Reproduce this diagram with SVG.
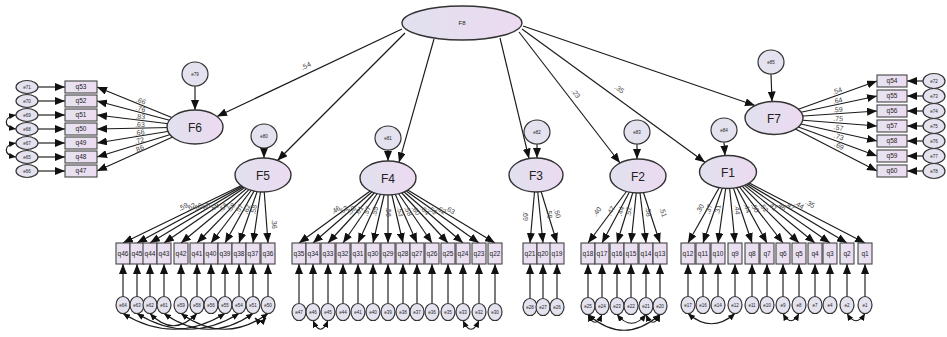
<svg xmlns="http://www.w3.org/2000/svg" width="947" height="337" viewBox="0 0 947 337">
<defs>
<linearGradient id="lg" x1="0" y1="0" x2="1" y2="0"><stop offset="0" stop-color="#e1e1ee"/><stop offset="1" stop-color="#ecdaf1"/></linearGradient>
<linearGradient id="bg" x1="0" y1="0" x2="1" y2="0"><stop offset="0" stop-color="#e6e3f0"/><stop offset="1" stop-color="#eddcf1"/></linearGradient>
<marker id="ah" markerUnits="userSpaceOnUse" markerWidth="10" markerHeight="8" refX="10" refY="4" orient="auto"><path d="M0,0 L10,4 L0,8 Z" fill="#111"/></marker>
<marker id="ch" markerUnits="userSpaceOnUse" markerWidth="7" markerHeight="6" refX="7" refY="3" orient="auto-start-reverse"><path d="M0,0 L7,3 L0,6 Z" fill="#111"/></marker>
</defs>
<style>
.lat{fill:url(#lg);stroke:#333;stroke-width:1.4}
.box{fill:url(#bg);stroke:#444;stroke-width:1.1}
.err{fill:#e4e2ef;stroke:#333;stroke-width:1.2}
.ln{stroke:#1a1a1a;stroke-width:1.15;fill:none;marker-end:url(#ah)}
.cv{stroke:#1a1a1a;stroke-width:1.15;fill:none;marker-end:url(#ch);marker-start:url(#ch)}
text{font-family:"Liberation Sans",Arial,sans-serif;fill:#222;text-anchor:middle}
.fl{font-size:12px}
.ql{font-size:6.5px}
.el{font-size:4.5px}
.ld{font-size:7px;fill:#444}
</style>
<rect width="947" height="337" fill="#ffffff"/>
<g id="connectors">
<path class="ln" d="M402,29 L217,116.5"/>
<path class="ln" d="M405,33 L277.5,160.5"/>
<path class="ln" d="M434,39 L399,162.4"/>
<path class="ln" d="M500,38 L529,158.5"/>
<path class="ln" d="M519,32 L620,163"/>
<path class="ln" d="M522,29 L705,162.3"/>
<path class="ln" d="M523,26 L755,105.5"/>
<text class="ld" transform="translate(307,68) rotate(-25)">.54</text>
<text class="ld" transform="translate(574,95) rotate(52)">.23</text>
<text class="ld" transform="translate(618,91) rotate(36)">.35</text>
<path class="ln" d="M195,86 L195,110"/>
<path class="ln" d="M264,148 L264,158"/>
<path class="ln" d="M388,150 L388,161"/>
<path class="ln" d="M537,144 L537,158"/>
<path class="ln" d="M637,144 L637,159"/>
<path class="ln" d="M724,142 L725,155.5"/>
<path class="ln" d="M771,74 L772,101.5"/>
<path class="ln" d="M195,127 L97,87"/><path class="ln" d="M195,127 L97,101"/><path class="ln" d="M195,127 L97,115"/><path class="ln" d="M195,127 L97,129"/><path class="ln" d="M195,127 L97,143"/><path class="ln" d="M195,127 L97,157"/><path class="ln" d="M195,127 L97,171"/>
<text class="ld" transform="translate(140,103) rotate(22)">.66</text>
<text class="ld" transform="translate(140,111) rotate(15)">.76</text>
<text class="ld" transform="translate(140,119) rotate(7)">.83</text>
<text class="ld" transform="translate(140,127) rotate(-1)">.63</text>
<text class="ld" transform="translate(140,135) rotate(-9)">.66</text>
<text class="ld" transform="translate(140,143) rotate(-17)">.72</text>
<text class="ld" transform="translate(140,151) rotate(-24)">.86</text>
<path class="ln" d="M38,87 L65,87"/><path class="ln" d="M38,101 L65,101"/><path class="ln" d="M38,115 L65,115"/><path class="ln" d="M38,129 L65,129"/><path class="ln" d="M38,143 L65,143"/><path class="ln" d="M38,157 L65,157"/><path class="ln" d="M38,171 L65,171"/>
<path class="cv" d="M16,115 C3,117 3,127 16,129"/>
<path class="cv" d="M16,143 C3,145 3,155 16,157"/>
<path class="ln" d="M774,118 L877,81"/><path class="ln" d="M774,118 L877,96"/><path class="ln" d="M774,118 L877,111"/><path class="ln" d="M774,118 L877,126"/><path class="ln" d="M774,118 L877,141"/><path class="ln" d="M774,118 L877,156"/><path class="ln" d="M774,118 L877,171"/>
<text class="ld" transform="translate(838,93) rotate(-20)">.54</text>
<text class="ld" transform="translate(838,103) rotate(-12)">.64</text>
<text class="ld" transform="translate(838,112) rotate(-4)">.59</text>
<text class="ld" transform="translate(838,121) rotate(4)">.75</text>
<text class="ld" transform="translate(838,130) rotate(12)">.57</text>
<text class="ld" transform="translate(838,139) rotate(20)">.73</text>
<text class="ld" transform="translate(838,148) rotate(27)">.69</text>
<path class="ln" d="M923,81 L907,81"/><path class="ln" d="M923,96 L907,96"/><path class="ln" d="M923,111 L907,111"/><path class="ln" d="M923,126 L907,126"/><path class="ln" d="M923,141 L907,141"/><path class="ln" d="M923,156 L907,156"/><path class="ln" d="M923,171 L907,171"/>
<path class="ln" d="M263,175 L123,243"/><path class="ln" d="M263,175 L137,243"/><path class="ln" d="M263,175 L150,243"/><path class="ln" d="M263,175 L164,243"/><path class="ln" d="M263,175 L181,243"/><path class="ln" d="M263,175 L197,243"/><path class="ln" d="M263,175 L211,243"/><path class="ln" d="M263,175 L225,243"/><path class="ln" d="M263,175 L239,243"/><path class="ln" d="M263,175 L253,243"/><path class="ln" d="M263,175 L268,243"/>
<text class="ld" transform="translate(184,209) rotate(-26)">.59</text>
<text class="ld" transform="translate(192,209) rotate(-28)">.62</text>
<text class="ld" transform="translate(199,209) rotate(-31)">.66</text>
<text class="ld" transform="translate(207,209) rotate(-34)">.60</text>
<text class="ld" transform="translate(216,209) rotate(-39)">.59</text>
<text class="ld" transform="translate(225,209) rotate(-45)">.56</text>
<text class="ld" transform="translate(233,209) rotate(-52)">.58</text>
<text class="ld" transform="translate(241,210) rotate(-60)">.57</text>
<text class="ld" transform="translate(249,210) rotate(-70)">.62</text>
<text class="ld" transform="translate(256,210) rotate(-81)">.58</text>
<text class="ld" transform="translate(272,224) rotate(86)">.36</text>
<path class="ln" d="M388,178 L299,243"/><path class="ln" d="M388,178 L313,243"/><path class="ln" d="M388,178 L328,243"/><path class="ln" d="M388,178 L343,243"/><path class="ln" d="M388,178 L358,243"/><path class="ln" d="M388,178 L373,243"/><path class="ln" d="M388,178 L388,243"/><path class="ln" d="M388,178 L403,243"/><path class="ln" d="M388,178 L417,243"/><path class="ln" d="M388,178 L432,243"/><path class="ln" d="M388,178 L448,243"/><path class="ln" d="M388,178 L463,243"/><path class="ln" d="M388,178 L479,243"/><path class="ln" d="M388,178 L495,243"/>
<text class="ld" transform="translate(337,212) rotate(-36)">.46</text>
<text class="ld" transform="translate(345,212) rotate(-40)">.52</text>
<text class="ld" transform="translate(353,212) rotate(-47)">.58</text>
<text class="ld" transform="translate(361,212) rotate(-55)">.61</text>
<text class="ld" transform="translate(369,212) rotate(-65)">.57</text>
<text class="ld" transform="translate(377,212) rotate(-77)">.55</text>
<text class="ld" transform="translate(386,212) rotate(90)">.56</text>
<text class="ld" transform="translate(398,212) rotate(77)">.53</text>
<text class="ld" transform="translate(406,212) rotate(66)">.58</text>
<text class="ld" transform="translate(414,212) rotate(55)">.60</text>
<text class="ld" transform="translate(423,212) rotate(47)">.64</text>
<text class="ld" transform="translate(431,212) rotate(40)">.59</text>
<text class="ld" transform="translate(440,212) rotate(35)">.62</text>
<text class="ld" transform="translate(449,212) rotate(31)">.63</text>
<path class="ln" d="M536,175 L530,243"/><path class="ln" d="M536,175 L543,243"/><path class="ln" d="M536,175 L557,243"/>
<text class="ld" transform="translate(523,216) rotate(90)">.69</text>
<text class="ld" transform="translate(547,214) rotate(84)">.58</text>
<text class="ld" transform="translate(555,214) rotate(73)">.50</text>
<path class="ln" d="M638,176 L588,243"/><path class="ln" d="M638,176 L602,243"/><path class="ln" d="M638,176 L617,243"/><path class="ln" d="M638,176 L631,243"/><path class="ln" d="M638,176 L646,243"/><path class="ln" d="M638,176 L660,243"/>
<text class="ld" transform="translate(599,213) rotate(-53)">.40</text>
<text class="ld" transform="translate(613,212) rotate(-61)">.47</text>
<text class="ld" transform="translate(623,212) rotate(-72)">.44</text>
<text class="ld" transform="translate(631,212) rotate(-84)">.52</text>
<text class="ld" transform="translate(646,212) rotate(83)">.58</text>
<text class="ld" transform="translate(661,213) rotate(72)">.51</text>
<path class="ln" d="M728,172 L688,243"/><path class="ln" d="M728,172 L703,243"/><path class="ln" d="M728,172 L718,243"/><path class="ln" d="M728,172 L735,243"/><path class="ln" d="M728,172 L752,243"/><path class="ln" d="M728,172 L767,243"/><path class="ln" d="M728,172 L783,243"/><path class="ln" d="M728,172 L799,243"/><path class="ln" d="M728,172 L815,243"/><path class="ln" d="M728,172 L830,243"/><path class="ln" d="M728,172 L847,243"/><path class="ln" d="M728,172 L865,243"/>
<text class="ld" transform="translate(702,210) rotate(-60)">.30</text>
<text class="ld" transform="translate(711,210) rotate(-70)">.37</text>
<text class="ld" transform="translate(720,210) rotate(-82)">.31</text>
<text class="ld" transform="translate(735,210) rotate(84)">.44</text>
<text class="ld" transform="translate(745,209) rotate(71)">.44</text>
<text class="ld" transform="translate(753,209) rotate(61)">.50</text>
<text class="ld" transform="translate(762,209) rotate(52)">.52</text>
<text class="ld" transform="translate(771,208) rotate(45)">.41</text>
<text class="ld" transform="translate(780,208) rotate(39)">.46</text>
<text class="ld" transform="translate(789,208) rotate(35)">.47</text>
<text class="ld" transform="translate(798,207) rotate(31)">.44</text>
<text class="ld" transform="translate(809,206) rotate(27)">.35</text>
<path class="ln" d="M123,296.5 L123,264"/><path class="ln" d="M137,296.5 L137,264"/><path class="ln" d="M150,296.5 L150,264"/><path class="ln" d="M164,296.5 L164,264"/><path class="ln" d="M181,296.5 L181,264"/><path class="ln" d="M197,296.5 L197,264"/><path class="ln" d="M211,296.5 L211,264"/><path class="ln" d="M225,296.5 L225,264"/><path class="ln" d="M239,296.5 L239,264"/><path class="ln" d="M253,296.5 L253,264"/><path class="ln" d="M268,296.5 L268,264"/>
<path class="ln" d="M299,303.5 L299,264"/><path class="ln" d="M313,303.5 L313,264"/><path class="ln" d="M328,303.5 L328,264"/><path class="ln" d="M343,303.5 L343,264"/><path class="ln" d="M358,303.5 L358,264"/><path class="ln" d="M373,303.5 L373,264"/><path class="ln" d="M388,303.5 L388,264"/><path class="ln" d="M403,303.5 L403,264"/><path class="ln" d="M417,303.5 L417,264"/><path class="ln" d="M432,303.5 L432,264"/><path class="ln" d="M448,303.5 L448,264"/><path class="ln" d="M463,303.5 L463,264"/><path class="ln" d="M479,303.5 L479,264"/><path class="ln" d="M495,303.5 L495,264"/>
<path class="ln" d="M530,298.5 L530,264"/><path class="ln" d="M543,298.5 L543,264"/><path class="ln" d="M557,298.5 L557,264"/>
<path class="ln" d="M588,297.5 L588,264"/><path class="ln" d="M602,297.5 L602,264"/><path class="ln" d="M617,297.5 L617,264"/><path class="ln" d="M631,297.5 L631,264"/><path class="ln" d="M646,297.5 L646,264"/><path class="ln" d="M660,297.5 L660,264"/>
<path class="ln" d="M688,296.5 L688,264"/><path class="ln" d="M703,296.5 L703,264"/><path class="ln" d="M718,296.5 L718,264"/><path class="ln" d="M735,296.5 L735,264"/><path class="ln" d="M752,296.5 L752,264"/><path class="ln" d="M767,296.5 L767,264"/><path class="ln" d="M783,296.5 L783,264"/><path class="ln" d="M799,296.5 L799,264"/><path class="ln" d="M815,296.5 L815,264"/><path class="ln" d="M830,296.5 L830,264"/><path class="ln" d="M847,296.5 L847,264"/><path class="ln" d="M865,296.5 L865,264"/>
<path class="cv" d="M123,313.5 Q174,345 225,313.5"/>
<path class="cv" d="M137,313.5 Q188,345 239,313.5"/>
<path class="cv" d="M150,313.5 Q173.5,338 197,313.5"/>
<path class="cv" d="M164,313.5 Q208.5,345 253,313.5"/>
<path class="cv" d="M181,313.5 Q224.5,345 268,313.5"/>
<path class="cv" d="M255,318 Q260.5,324 266,318"/>
<path class="cv" d="M313,320.5 Q320.5,338 328,320.5"/>
<path class="cv" d="M463,320.5 Q471,338 479,320.5"/>
<path class="cv" d="M588,314.5 Q624,346 660,314.5"/>
<path class="cv" d="M588,314.5 Q595,330 602,314.5"/>
<path class="cv" d="M617,314.5 Q631.5,332 646,314.5"/>
<path class="cv" d="M646,314.5 Q653,330 660,314.5"/>
<path class="cv" d="M688,313.5 Q711.5,334 735,313.5"/>
<path class="cv" d="M783,313.5 Q791,328 799,313.5"/>
<path class="cv" d="M847,313.5 Q856,328 865,313.5"/>
</g>
<g id="F8"><ellipse class="lat" cx="462" cy="23" rx="60" ry="17"/><text x="462" y="25" style="font-size:6px">F8</text></g>
<g id="F6"><ellipse class="lat" cx="195" cy="127" rx="28" ry="17"/><text class="fl" x="195" y="131.5">F6</text></g>
<g id="F5"><ellipse class="lat" cx="263" cy="175" rx="28" ry="17"/><text class="fl" x="263" y="179.5">F5</text></g>
<g id="F4"><ellipse class="lat" cx="388" cy="178" rx="28" ry="17"/><text class="fl" x="388" y="182.5">F4</text></g>
<g id="F3"><ellipse class="lat" cx="536" cy="175" rx="27" ry="17"/><text class="fl" x="536" y="179.5">F3</text></g>
<g id="F2"><ellipse class="lat" cx="638" cy="176" rx="28" ry="17"/><text class="fl" x="638" y="180.5">F2</text></g>
<g id="F1"><ellipse class="lat" cx="728" cy="172" rx="28.5" ry="16.5"/><text class="fl" x="728" y="176.5">F1</text></g>
<g id="F7"><ellipse class="lat" cx="774" cy="118" rx="29" ry="16.5"/><text class="fl" x="774" y="122.5">F7</text></g>
<g id="e79"><ellipse class="err" cx="195" cy="74" rx="13" ry="12"/><text class="el" x="195" y="75.5">e79</text></g>
<g id="e80"><ellipse class="err" cx="264" cy="136" rx="13" ry="12"/><text class="el" x="264" y="137.5">e80</text></g>
<g id="e81"><ellipse class="err" cx="388" cy="138" rx="13" ry="12"/><text class="el" x="388" y="139.5">e81</text></g>
<g id="e82"><ellipse class="err" cx="537" cy="132" rx="13" ry="12"/><text class="el" x="537" y="133.5">e82</text></g>
<g id="e83"><ellipse class="err" cx="637" cy="132" rx="13" ry="12"/><text class="el" x="637" y="133.5">e83</text></g>
<g id="e84"><ellipse class="err" cx="724" cy="130" rx="13" ry="12"/><text class="el" x="724" y="131.5">e84</text></g>
<g id="e85"><ellipse class="err" cx="771" cy="62" rx="13" ry="12"/><text class="el" x="771" y="63.5">e85</text></g>
<g id="q53"><rect class="box" x="65" y="81" width="32" height="12"/><text class="ql" x="81" y="89.3">q53</text></g>
<g id="q52"><rect class="box" x="65" y="95" width="32" height="12"/><text class="ql" x="81" y="103.3">q52</text></g>
<g id="q51"><rect class="box" x="65" y="109" width="32" height="12"/><text class="ql" x="81" y="117.3">q51</text></g>
<g id="q50"><rect class="box" x="65" y="123" width="32" height="12"/><text class="ql" x="81" y="131.3">q50</text></g>
<g id="q49"><rect class="box" x="65" y="137" width="32" height="12"/><text class="ql" x="81" y="145.3">q49</text></g>
<g id="q48"><rect class="box" x="65" y="151" width="32" height="12"/><text class="ql" x="81" y="159.3">q48</text></g>
<g id="q47"><rect class="box" x="65" y="165" width="32" height="12"/><text class="ql" x="81" y="173.3">q47</text></g>
<g id="e71"><ellipse class="err" cx="27" cy="87" rx="11" ry="6.5"/><text class="el" x="27" y="88.6">e71</text></g>
<g id="e70"><ellipse class="err" cx="27" cy="101" rx="11" ry="6.5"/><text class="el" x="27" y="102.6">e70</text></g>
<g id="e69"><ellipse class="err" cx="27" cy="115" rx="11" ry="6.5"/><text class="el" x="27" y="116.6">e69</text></g>
<g id="e68"><ellipse class="err" cx="27" cy="129" rx="11" ry="6.5"/><text class="el" x="27" y="130.6">e68</text></g>
<g id="e67"><ellipse class="err" cx="27" cy="143" rx="11" ry="6.5"/><text class="el" x="27" y="144.6">e67</text></g>
<g id="e65"><ellipse class="err" cx="27" cy="157" rx="11" ry="6.5"/><text class="el" x="27" y="158.6">e65</text></g>
<g id="e66"><ellipse class="err" cx="27" cy="171" rx="11" ry="6.5"/><text class="el" x="27" y="172.6">e66</text></g>
<g id="q54"><rect class="box" x="877" y="75" width="30" height="12"/><text class="ql" x="892" y="83.3">q54</text></g>
<g id="q55"><rect class="box" x="877" y="90" width="30" height="12"/><text class="ql" x="892" y="98.3">q55</text></g>
<g id="q56"><rect class="box" x="877" y="105" width="30" height="12"/><text class="ql" x="892" y="113.3">q56</text></g>
<g id="q57"><rect class="box" x="877" y="120" width="30" height="12"/><text class="ql" x="892" y="128.3">q57</text></g>
<g id="q58"><rect class="box" x="877" y="135" width="30" height="12"/><text class="ql" x="892" y="143.3">q58</text></g>
<g id="q59"><rect class="box" x="877" y="150" width="30" height="12"/><text class="ql" x="892" y="158.3">q59</text></g>
<g id="q60"><rect class="box" x="877" y="165" width="30" height="12"/><text class="ql" x="892" y="173.3">q60</text></g>
<g id="e72"><ellipse class="err" cx="934" cy="81" rx="11" ry="7.5"/><text class="el" x="934" y="82.6">e72</text></g>
<g id="e73"><ellipse class="err" cx="934" cy="96" rx="11" ry="7.5"/><text class="el" x="934" y="97.6">e73</text></g>
<g id="e74"><ellipse class="err" cx="934" cy="111" rx="11" ry="7.5"/><text class="el" x="934" y="112.6">e74</text></g>
<g id="e75"><ellipse class="err" cx="934" cy="126" rx="11" ry="7.5"/><text class="el" x="934" y="127.6">e75</text></g>
<g id="e76"><ellipse class="err" cx="934" cy="141" rx="11" ry="7.5"/><text class="el" x="934" y="142.6">e76</text></g>
<g id="e77"><ellipse class="err" cx="934" cy="156" rx="11" ry="7.5"/><text class="el" x="934" y="157.6">e77</text></g>
<g id="e78"><ellipse class="err" cx="934" cy="171" rx="11" ry="7.5"/><text class="el" x="934" y="172.6">e78</text></g>
<g id="q46"><rect class="box" x="116" y="243" width="14" height="21"/><text class="ql" x="123" y="256">q46</text></g>
<g id="q45"><rect class="box" x="130" y="243" width="14" height="21"/><text class="ql" x="137" y="256">q45</text></g>
<g id="q44"><rect class="box" x="143" y="243" width="14" height="21"/><text class="ql" x="150" y="256">q44</text></g>
<g id="q43"><rect class="box" x="157" y="243" width="14" height="21"/><text class="ql" x="164" y="256">q43</text></g>
<g id="q42"><rect class="box" x="174" y="243" width="14" height="21"/><text class="ql" x="181" y="256">q42</text></g>
<g id="q41"><rect class="box" x="190" y="243" width="14" height="21"/><text class="ql" x="197" y="256">q41</text></g>
<g id="q40"><rect class="box" x="204" y="243" width="14" height="21"/><text class="ql" x="211" y="256">q40</text></g>
<g id="q39"><rect class="box" x="218" y="243" width="14" height="21"/><text class="ql" x="225" y="256">q39</text></g>
<g id="q38"><rect class="box" x="232" y="243" width="14" height="21"/><text class="ql" x="239" y="256">q38</text></g>
<g id="q37"><rect class="box" x="246" y="243" width="14" height="21"/><text class="ql" x="253" y="256">q37</text></g>
<g id="q36"><rect class="box" x="261" y="243" width="14" height="21"/><text class="ql" x="268" y="256">q36</text></g>
<g id="e64"><ellipse class="err" cx="123" cy="305" rx="7" ry="8.5"/><text class="el" x="123" y="306.6">e64</text></g>
<g id="e63"><ellipse class="err" cx="137" cy="305" rx="7" ry="8.5"/><text class="el" x="137" y="306.6">e63</text></g>
<g id="e62"><ellipse class="err" cx="150" cy="305" rx="7" ry="8.5"/><text class="el" x="150" y="306.6">e62</text></g>
<g id="e61"><ellipse class="err" cx="164" cy="305" rx="7" ry="8.5"/><text class="el" x="164" y="306.6">e61</text></g>
<g id="e59"><ellipse class="err" cx="181" cy="305" rx="7" ry="8.5"/><text class="el" x="181" y="306.6">e59</text></g>
<g id="e58"><ellipse class="err" cx="197" cy="305" rx="7" ry="8.5"/><text class="el" x="197" y="306.6">e58</text></g>
<g id="e56"><ellipse class="err" cx="211" cy="305" rx="7" ry="8.5"/><text class="el" x="211" y="306.6">e56</text></g>
<g id="e55"><ellipse class="err" cx="225" cy="305" rx="7" ry="8.5"/><text class="el" x="225" y="306.6">e55</text></g>
<g id="e54"><ellipse class="err" cx="239" cy="305" rx="7" ry="8.5"/><text class="el" x="239" y="306.6">e54</text></g>
<g id="e51"><ellipse class="err" cx="253" cy="305" rx="7" ry="8.5"/><text class="el" x="253" y="306.6">e51</text></g>
<g id="e50"><ellipse class="err" cx="268" cy="305" rx="7" ry="8.5"/><text class="el" x="268" y="306.6">e50</text></g>
<g id="q35"><rect class="box" x="292" y="243" width="14" height="21"/><text class="ql" x="299" y="256">q35</text></g>
<g id="q34"><rect class="box" x="306" y="243" width="14" height="21"/><text class="ql" x="313" y="256">q34</text></g>
<g id="q33"><rect class="box" x="321" y="243" width="14" height="21"/><text class="ql" x="328" y="256">q33</text></g>
<g id="q32"><rect class="box" x="336" y="243" width="14" height="21"/><text class="ql" x="343" y="256">q32</text></g>
<g id="q31"><rect class="box" x="351" y="243" width="14" height="21"/><text class="ql" x="358" y="256">q31</text></g>
<g id="q30"><rect class="box" x="366" y="243" width="14" height="21"/><text class="ql" x="373" y="256">q30</text></g>
<g id="q29"><rect class="box" x="381" y="243" width="14" height="21"/><text class="ql" x="388" y="256">q29</text></g>
<g id="q28"><rect class="box" x="396" y="243" width="14" height="21"/><text class="ql" x="403" y="256">q28</text></g>
<g id="q27"><rect class="box" x="410" y="243" width="14" height="21"/><text class="ql" x="417" y="256">q27</text></g>
<g id="q26"><rect class="box" x="425" y="243" width="14" height="21"/><text class="ql" x="432" y="256">q26</text></g>
<g id="q25"><rect class="box" x="441" y="243" width="14" height="21"/><text class="ql" x="448" y="256">q25</text></g>
<g id="q24"><rect class="box" x="456" y="243" width="14" height="21"/><text class="ql" x="463" y="256">q24</text></g>
<g id="q23"><rect class="box" x="472" y="243" width="14" height="21"/><text class="ql" x="479" y="256">q23</text></g>
<g id="q22"><rect class="box" x="488" y="243" width="14" height="21"/><text class="ql" x="495" y="256">q22</text></g>
<g id="e47"><ellipse class="err" cx="299" cy="312" rx="7" ry="8.5"/><text class="el" x="299" y="313.6">e47</text></g>
<g id="e46"><ellipse class="err" cx="313" cy="312" rx="7" ry="8.5"/><text class="el" x="313" y="313.6">e46</text></g>
<g id="e45"><ellipse class="err" cx="328" cy="312" rx="7" ry="8.5"/><text class="el" x="328" y="313.6">e45</text></g>
<g id="e44"><ellipse class="err" cx="343" cy="312" rx="7" ry="8.5"/><text class="el" x="343" y="313.6">e44</text></g>
<g id="e41"><ellipse class="err" cx="358" cy="312" rx="7" ry="8.5"/><text class="el" x="358" y="313.6">e41</text></g>
<g id="e40"><ellipse class="err" cx="373" cy="312" rx="7" ry="8.5"/><text class="el" x="373" y="313.6">e40</text></g>
<g id="e39"><ellipse class="err" cx="388" cy="312" rx="7" ry="8.5"/><text class="el" x="388" y="313.6">e39</text></g>
<g id="e38"><ellipse class="err" cx="403" cy="312" rx="7" ry="8.5"/><text class="el" x="403" y="313.6">e38</text></g>
<g id="e37"><ellipse class="err" cx="417" cy="312" rx="7" ry="8.5"/><text class="el" x="417" y="313.6">e37</text></g>
<g id="e36"><ellipse class="err" cx="432" cy="312" rx="7" ry="8.5"/><text class="el" x="432" y="313.6">e36</text></g>
<g id="e35"><ellipse class="err" cx="448" cy="312" rx="7" ry="8.5"/><text class="el" x="448" y="313.6">e35</text></g>
<g id="e33"><ellipse class="err" cx="463" cy="312" rx="7" ry="8.5"/><text class="el" x="463" y="313.6">e33</text></g>
<g id="e32"><ellipse class="err" cx="479" cy="312" rx="7" ry="8.5"/><text class="el" x="479" y="313.6">e32</text></g>
<g id="e30"><ellipse class="err" cx="495" cy="312" rx="7" ry="8.5"/><text class="el" x="495" y="313.6">e30</text></g>
<g id="q21"><rect class="box" x="523" y="243" width="14" height="21"/><text class="ql" x="530" y="256">q21</text></g>
<g id="q20"><rect class="box" x="537" y="243" width="14" height="21"/><text class="ql" x="543" y="256">q20</text></g>
<g id="q19"><rect class="box" x="550" y="243" width="14" height="21"/><text class="ql" x="557" y="256">q19</text></g>
<g id="e28"><ellipse class="err" cx="530" cy="307" rx="7" ry="8.5"/><text class="el" x="530" y="308.6">e28</text></g>
<g id="e27"><ellipse class="err" cx="543" cy="307" rx="7" ry="8.5"/><text class="el" x="543" y="308.6">e27</text></g>
<g id="e26"><ellipse class="err" cx="557" cy="307" rx="7" ry="8.5"/><text class="el" x="557" y="308.6">e26</text></g>
<g id="q18"><rect class="box" x="581" y="243" width="14" height="21"/><text class="ql" x="588" y="256">q18</text></g>
<g id="q17"><rect class="box" x="595" y="243" width="14" height="21"/><text class="ql" x="602" y="256">q17</text></g>
<g id="q16"><rect class="box" x="610" y="243" width="14" height="21"/><text class="ql" x="617" y="256">q16</text></g>
<g id="q15"><rect class="box" x="624" y="243" width="14" height="21"/><text class="ql" x="631" y="256">q15</text></g>
<g id="q14"><rect class="box" x="639" y="243" width="14" height="21"/><text class="ql" x="646" y="256">q14</text></g>
<g id="q13"><rect class="box" x="653" y="243" width="14" height="21"/><text class="ql" x="660" y="256">q13</text></g>
<g id="e25"><ellipse class="err" cx="588" cy="306" rx="7" ry="8.5"/><text class="el" x="588" y="307.6">e25</text></g>
<g id="e24"><ellipse class="err" cx="602" cy="306" rx="7" ry="8.5"/><text class="el" x="602" y="307.6">e24</text></g>
<g id="e23"><ellipse class="err" cx="617" cy="306" rx="7" ry="8.5"/><text class="el" x="617" y="307.6">e23</text></g>
<g id="e22"><ellipse class="err" cx="631" cy="306" rx="7" ry="8.5"/><text class="el" x="631" y="307.6">e22</text></g>
<g id="e21"><ellipse class="err" cx="646" cy="306" rx="7" ry="8.5"/><text class="el" x="646" y="307.6">e21</text></g>
<g id="e20"><ellipse class="err" cx="660" cy="306" rx="7" ry="8.5"/><text class="el" x="660" y="307.6">e20</text></g>
<g id="q12"><rect class="box" x="681" y="243" width="14" height="21"/><text class="ql" x="688" y="256">q12</text></g>
<g id="q11"><rect class="box" x="696" y="243" width="14" height="21"/><text class="ql" x="703" y="256">q11</text></g>
<g id="q10"><rect class="box" x="711" y="243" width="14" height="21"/><text class="ql" x="718" y="256">q10</text></g>
<g id="q9"><rect class="box" x="728" y="243" width="14" height="21"/><text class="ql" x="735" y="256">q9</text></g>
<g id="q8"><rect class="box" x="745" y="243" width="14" height="21"/><text class="ql" x="752" y="256">q8</text></g>
<g id="q7"><rect class="box" x="760" y="243" width="14" height="21"/><text class="ql" x="767" y="256">q7</text></g>
<g id="q6"><rect class="box" x="776" y="243" width="14" height="21"/><text class="ql" x="783" y="256">q6</text></g>
<g id="q5"><rect class="box" x="792" y="243" width="14" height="21"/><text class="ql" x="799" y="256">q5</text></g>
<g id="q4"><rect class="box" x="808" y="243" width="14" height="21"/><text class="ql" x="815" y="256">q4</text></g>
<g id="q3"><rect class="box" x="823" y="243" width="14" height="21"/><text class="ql" x="830" y="256">q3</text></g>
<g id="q2"><rect class="box" x="840" y="243" width="14" height="21"/><text class="ql" x="847" y="256">q2</text></g>
<g id="q1"><rect class="box" x="858" y="243" width="14" height="21"/><text class="ql" x="865" y="256">q1</text></g>
<g id="e17"><ellipse class="err" cx="688" cy="305" rx="7" ry="8.5"/><text class="el" x="688" y="306.6">e17</text></g>
<g id="e16"><ellipse class="err" cx="703" cy="305" rx="7" ry="8.5"/><text class="el" x="703" y="306.6">e16</text></g>
<g id="e14"><ellipse class="err" cx="718" cy="305" rx="7" ry="8.5"/><text class="el" x="718" y="306.6">e14</text></g>
<g id="e12"><ellipse class="err" cx="735" cy="305" rx="7" ry="8.5"/><text class="el" x="735" y="306.6">e12</text></g>
<g id="e11"><ellipse class="err" cx="752" cy="305" rx="7" ry="8.5"/><text class="el" x="752" y="306.6">e11</text></g>
<g id="e10"><ellipse class="err" cx="767" cy="305" rx="7" ry="8.5"/><text class="el" x="767" y="306.6">e10</text></g>
<g id="e9"><ellipse class="err" cx="783" cy="305" rx="7" ry="8.5"/><text class="el" x="783" y="306.6">e9</text></g>
<g id="e8"><ellipse class="err" cx="799" cy="305" rx="7" ry="8.5"/><text class="el" x="799" y="306.6">e8</text></g>
<g id="e7"><ellipse class="err" cx="815" cy="305" rx="7" ry="8.5"/><text class="el" x="815" y="306.6">e7</text></g>
<g id="e4"><ellipse class="err" cx="830" cy="305" rx="7" ry="8.5"/><text class="el" x="830" y="306.6">e4</text></g>
<g id="e2"><ellipse class="err" cx="847" cy="305" rx="7" ry="8.5"/><text class="el" x="847" y="306.6">e2</text></g>
<g id="e1"><ellipse class="err" cx="865" cy="305" rx="7" ry="8.5"/><text class="el" x="865" y="306.6">e1</text></g>
</svg>
